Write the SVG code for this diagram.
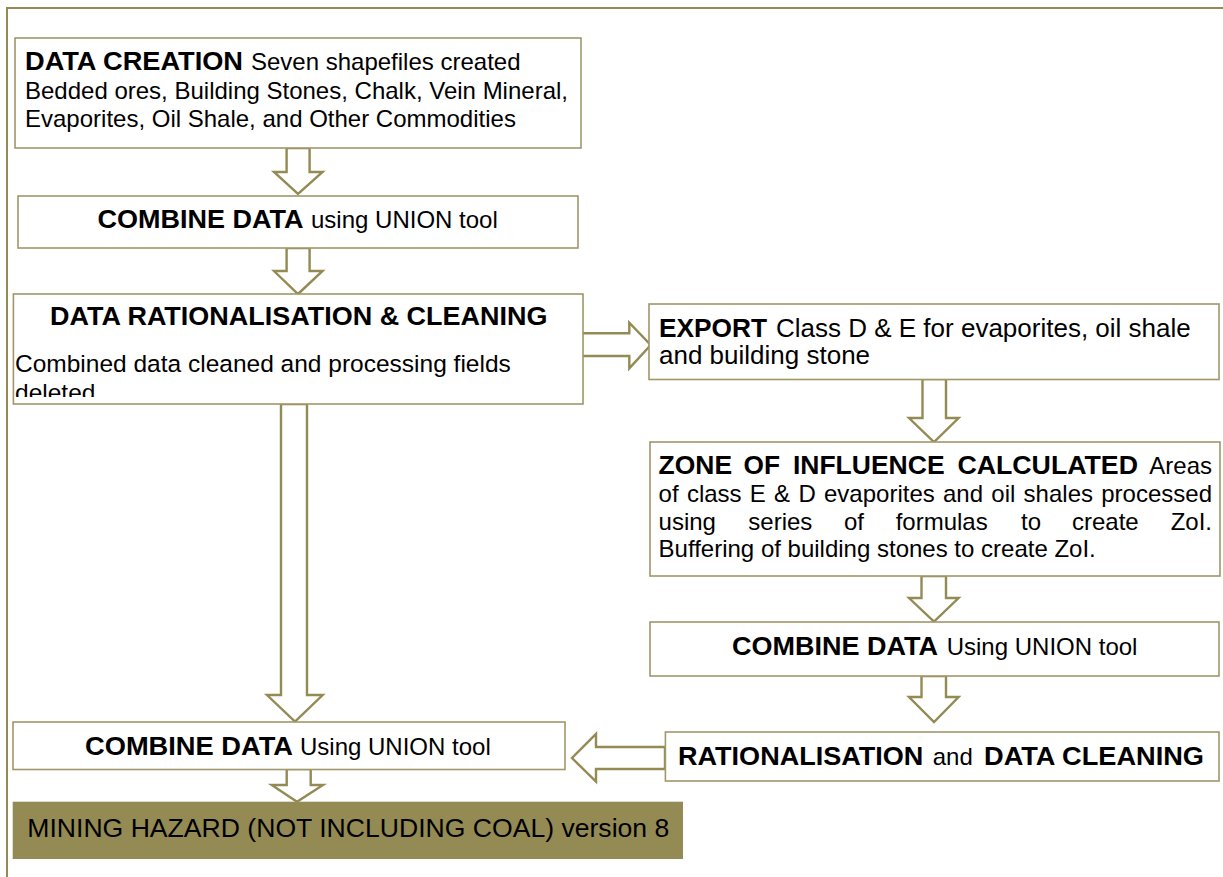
<svg xmlns="http://www.w3.org/2000/svg" width="1223" height="877" viewBox="0 0 1223 877">
<style>
.box{fill:#ffffff;stroke:#a0976a;stroke-width:1.6}
.arr{fill:#ffffff;stroke:#948A54;stroke-width:2.4;stroke-linejoin:miter}
.frame{fill:none;stroke:#948A54;stroke-width:2}
text{font-family:"Liberation Sans",Arial,sans-serif;fill:#000000}
.b{font-weight:bold;font-size:26.5px}
.r{font-size:24px}
.r26{font-size:26px}
</style>
<defs>
<clipPath id="clip3"><rect x="13" y="294" width="570" height="103"/></clipPath>
</defs>
<rect width="1223" height="877" fill="#ffffff"/>
<path class="frame" d="M7,877 V8 H1223"/>

<g id="connectors">
<polygon class="arr" points="286.6,148 309.6,148 309.6,172 322.6,172 298,194 274,172 286.6,172"/>
<polygon class="arr" points="286.6,248 309.6,248 309.6,271 322.6,271 298,294 274,271 286.6,271"/>
<polygon class="arr" points="281,404 307,404 307,695 322.7,695 295,721.7 267,695 281,695"/>
<polygon class="arr" points="286.7,769 310.7,769 310.7,785 323,785 297,801.7 271.7,785 286.7,785"/>
<polygon class="arr" points="581.7,333.3 629.3,333.3 629.3,322.7 650.7,345 629.3,368.3 629.3,356 581.7,356"/>
<polygon class="arr" points="922.5,379 946,379 946,418 958.6,418 934,442 909,418 922.5,418"/>
<polygon class="arr" points="921.5,576 946,576 946,598 958.6,598 934,621.7 909,598 921.5,598"/>
<polygon class="arr" points="921.5,676 946,676 946,697 958.6,697 934,722 909,697 921.5,697"/>
<polygon class="arr" points="665,747 596,747 596,734 572,758 596,781.7 596,769 665,769"/>
</g>

<g id="data-creation">
<rect class="box" x="15" y="38" width="566" height="110"/>
<text class="b" x="25" y="70" textLength="218" lengthAdjust="spacingAndGlyphs">DATA CREATION</text>
<text class="r" x="251" y="70">Seven shapefiles created</text>
<text class="r" x="25" y="99">Bedded ores, Building Stones, Chalk, Vein Mineral,</text>
<text class="r" x="25" y="127">Evaporites, Oil Shale, and Other Commodities</text>
</g>

<g id="combine-1">
<rect class="box" x="18" y="196" width="560" height="52"/>
<text class="b" x="97.6" y="228.3" textLength="206" lengthAdjust="spacingAndGlyphs">COMBINE DATA</text>
<text class="r" x="311" y="228.3">using UNION tool</text>
</g>

<g id="rationalisation-cleaning">
<rect class="box" x="13.4" y="294" width="569.6" height="110"/>
<text class="b" x="50" y="325" textLength="497.5" lengthAdjust="spacingAndGlyphs">DATA RATIONALISATION &amp; CLEANING</text>
<g clip-path="url(#clip3)">
<text class="r" x="15" y="371.7" style="font-size:24.5px">Combined data cleaned and processing fields</text>
<text class="r" x="15" y="400.5" style="font-size:24.5px">deleted</text>
</g>
</g>

<g id="export">
<rect class="box" x="649" y="304" width="570" height="75.5"/>
<text class="b" x="659" y="336.7" textLength="108" lengthAdjust="spacingAndGlyphs">EXPORT</text>
<text class="r26" x="776" y="336.7">Class D &amp; E for evaporites, oil shale</text>
<text class="r26" x="659" y="364">and building stone</text>
</g>

<g id="zone-of-influence">
<rect class="box" x="650" y="442" width="570" height="134"/>
<text class="b" x="658.6" y="474" textLength="73.5" lengthAdjust="spacingAndGlyphs">ZONE</text>
<text class="b" x="743.6" y="474" textLength="36.5" lengthAdjust="spacingAndGlyphs">OF</text>
<text class="b" x="792.9" y="474" textLength="151.7" lengthAdjust="spacingAndGlyphs">INFLUENCE</text>
<text class="b" x="957.4" y="474" textLength="180.6" lengthAdjust="spacingAndGlyphs">CALCULATED</text>
<text class="r" x="1212" y="474" text-anchor="end">Areas</text>
<text class="r" x="658.6" y="502" textLength="553.4" lengthAdjust="spacing" word-spacing="1.6">of class E &amp; D evaporites and oil shales processed</text>
<text class="r" x="658.6" y="530">using</text>
<text class="r" x="748.3" y="530">series</text>
<text class="r" x="843.9" y="530">of</text>
<text class="r" x="895.7" y="530">formulas</text>
<text class="r" x="1021" y="530">to</text>
<text class="r" x="1072" y="530">create</text>
<text class="r" x="1212" y="530" text-anchor="end">ZoI.</text>
<text class="r" x="658.6" y="557.3">Buffering of building stones to create ZoI.</text>
</g>

<g id="combine-2">
<rect class="box" x="650" y="622" width="569" height="54"/>
<text class="b" x="732" y="655" textLength="206" lengthAdjust="spacingAndGlyphs">COMBINE DATA</text>
<text class="r" x="946.7" y="655">Using UNION tool</text>
</g>

<g id="rationalisation-data-cleaning">
<rect class="box" x="665.4" y="732" width="553.6" height="49"/>
<text class="b" x="678" y="765" textLength="245.4" lengthAdjust="spacingAndGlyphs">RATIONALISATION</text>
<text class="r" x="932.7" y="765">and</text>
<text class="b" x="984" y="765" textLength="220" lengthAdjust="spacingAndGlyphs">DATA CLEANING</text>
</g>

<g id="combine-3">
<rect class="box" x="13" y="722" width="552" height="47.5"/>
<text class="b" x="85" y="755" textLength="208" lengthAdjust="spacingAndGlyphs">COMBINE DATA</text>
<text class="r" x="300" y="755">Using UNION tool</text>
</g>

<g id="mining-hazard">
<rect x="12.7" y="801.7" width="670.3" height="57.3" fill="#948A54"/>
<text x="27.3" y="836.7" style="font-size:26.5px" textLength="642" lengthAdjust="spacingAndGlyphs" fill="#0a0a0a">MINING HAZARD (NOT INCLUDING COAL) version 8</text>
</g>
</svg>
